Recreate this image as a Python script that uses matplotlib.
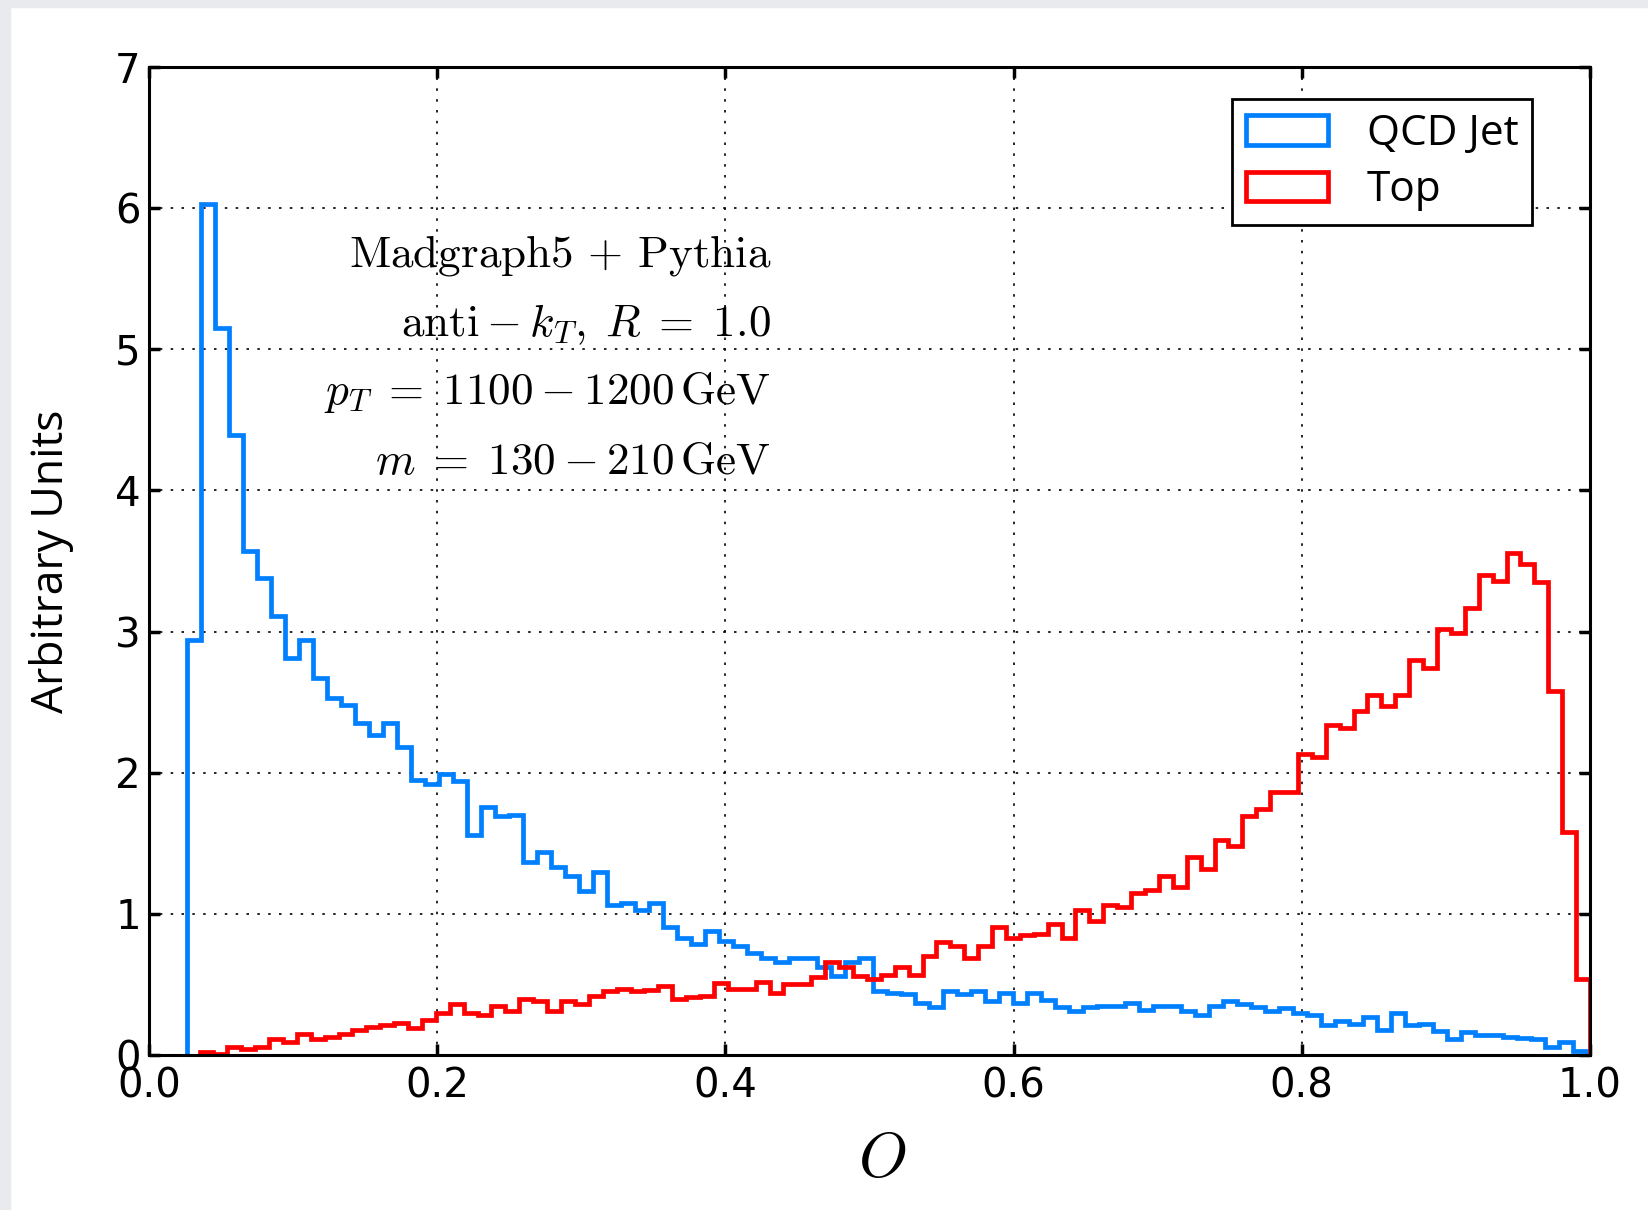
import numpy as np
import matplotlib.pyplot as plt
from matplotlib.patches import Rectangle

plt.rcParams['mathtext.fontset'] = 'cm'

# QCD jet distribution, 100 bins over [min, max] of the sample
qcd_range = (0.026, 0.998)
qcd = [2.94, 6.03, 5.15, 4.39, 3.57, 3.38, 3.11, 2.81, 2.94, 2.67,
       2.53, 2.48, 2.35, 2.27, 2.35, 2.18, 1.95, 1.92, 1.99, 1.94,
       1.56, 1.76, 1.69, 1.70, 1.37, 1.44, 1.33, 1.27, 1.16, 1.30,
       1.06, 1.08, 1.03, 1.08, 0.91, 0.83, 0.79, 0.88, 0.81, 0.77,
       0.72, 0.69, 0.66, 0.69, 0.69, 0.62, 0.56, 0.66, 0.69, 0.45,
       0.44, 0.43, 0.37, 0.34, 0.45, 0.43, 0.45, 0.38, 0.44, 0.37,
       0.44, 0.39, 0.34, 0.31, 0.34, 0.35, 0.35, 0.37, 0.32, 0.35,
       0.35, 0.31, 0.28, 0.35, 0.38, 0.36, 0.34, 0.31, 0.33, 0.30,
       0.28, 0.21, 0.24, 0.22, 0.27, 0.18, 0.30, 0.21, 0.22, 0.17,
       0.11, 0.16, 0.14, 0.14, 0.13, 0.12, 0.11, 0.06, 0.09, 0.03]

# top jet distribution
top_range = (0.035, 1.0)
top = [0.02, 0.01, 0.06, 0.04, 0.06, 0.11, 0.09, 0.15, 0.11, 0.13,
       0.15, 0.18, 0.20, 0.21, 0.23, 0.19, 0.25, 0.30, 0.36, 0.30,
       0.28, 0.35, 0.31, 0.40, 0.38, 0.31, 0.38, 0.36, 0.42, 0.45,
       0.47, 0.45, 0.46, 0.49, 0.40, 0.41, 0.42, 0.51, 0.47, 0.47,
       0.52, 0.44, 0.50, 0.50, 0.55, 0.66, 0.62, 0.56, 0.54, 0.57,
       0.62, 0.57, 0.70, 0.80, 0.77, 0.69, 0.77, 0.91, 0.83, 0.85,
       0.86, 0.93, 0.83, 1.03, 0.95, 1.06, 1.05, 1.15, 1.17, 1.27,
       1.19, 1.40, 1.32, 1.52, 1.48, 1.69, 1.74, 1.86, 1.86, 2.13,
       2.11, 2.34, 2.32, 2.44, 2.55, 2.47, 2.55, 2.80, 2.74, 3.02,
       2.99, 3.17, 3.40, 3.36, 3.56, 3.48, 3.35, 2.58, 1.58, 0.54]

info = [r'$\mathrm{Madgraph5}\,+\,\mathrm{Pythia}$',
        r'$\mathrm{anti}-k_T,\; R\;=\;1.0$',
        r'$p_T\;=\;1100-1200\,\mathrm{GeV}$',
        r'$m\;=\;130-210\,\mathrm{GeV}$']

fig = plt.figure(figsize=(16.49, 12.10), dpi=100)
# grey page edge
fig.patches.append(Rectangle((0, 0), 10 / 1649, 1, transform=fig.transFigure,
                             color='#e9eaee', zorder=-1))
fig.patches.append(Rectangle((0, 1 - 7 / 1210), 1, 7 / 1210, transform=fig.transFigure,
                             color='#e9eaee', zorder=-1))

ax = fig.add_axes([0.0904, 0.1281, 0.8738, 0.8165])

for vals, rng, col, lab in [(qcd, qcd_range, '#0080ff', 'QCD Jet'),
                            (top, top_range, '#ff0000', 'Top')]:
    edges = np.linspace(rng[0], rng[1], len(vals) + 1)
    centers = 0.5 * (edges[:-1] + edges[1:])
    ax.hist(centers, bins=edges, weights=vals, histtype='step',
            color=col, linewidth=3.4, label=lab)

ax.set_xlim(0, 1)
ax.set_ylim(0, 7)
ax.set_xticks(np.arange(0, 1.01, 0.2))
ax.set_yticks(range(8))

ax.set_axisbelow(True)
ax.grid(True, color='k', linestyle=(0, (1.5, 5)), linewidth=1.2)
for s in ax.spines.values():
    s.set_linewidth(2.2)
ax.tick_params(direction='in', length=8, width=2.5, top=True, right=True, labelsize=29)
ax.tick_params(axis='x', pad=8)
ax.tick_params(axis='y', pad=6)

ax.set_ylabel('Arbitrary Units', family='Open Sans', fontsize=32)
ax.yaxis.set_label_coords(-0.052, 0.5)
ax.set_xlabel(r'$O$', fontsize=45)
ax.xaxis.set_label_coords(0.509, -0.076)

for y, s in zip([5.585, 5.096, 4.61, 4.12], info):
    ax.text(0.4316, y, s, ha='right', va='baseline', fontsize=32.5)

leg = ax.legend(loc='upper right', bbox_to_anchor=(0.9597, 0.9676), borderaxespad=0,
                fancybox=False, edgecolor='k', framealpha=1,
                prop={'family': 'Open Sans', 'size': 30.5},
                handlelength=1.95, handleheight=0.7, handletextpad=0.9,
                labelspacing=0.35, borderpad=0.32)
leg.get_frame().set_linewidth(2)

fig.savefig('out.png', dpi=100)
